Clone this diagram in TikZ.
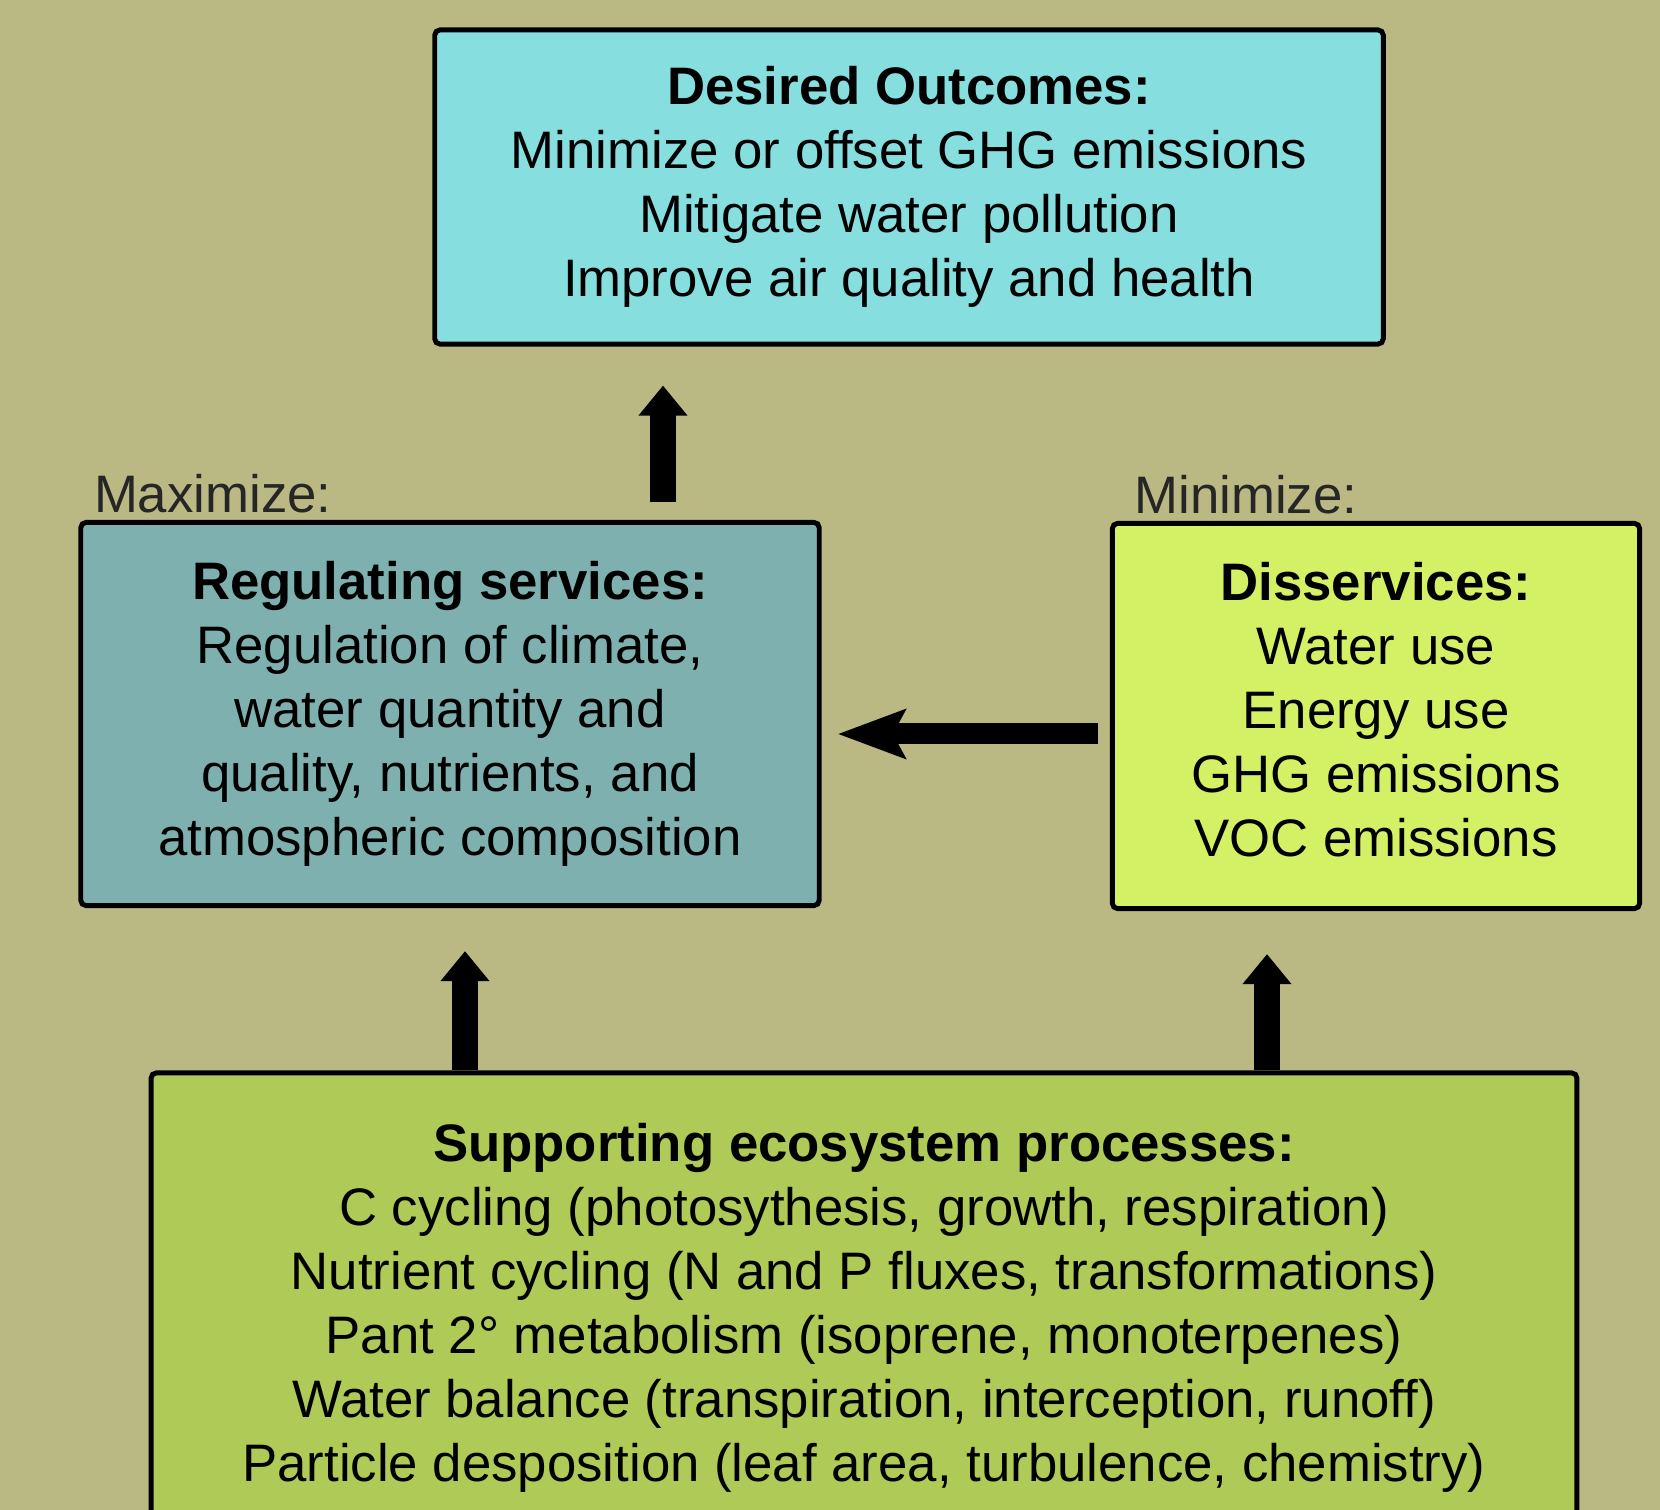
\documentclass[tikz,border=0pt]{standalone}
\usepackage{fontspec}
\setmainfont{Liberation Sans}
\usetikzlibrary{positioning, arrows.meta, calc}
\usepackage{xcolor}
\definecolor{bgkhaki}{HTML}{BAB984}
\definecolor{outcomecyan}{HTML}{86DEDF}
\definecolor{regteal}{HTML}{7FB0B0}
\definecolor{disyellow}{HTML}{D4F166}
\definecolor{supgreen}{HTML}{AFCA56}

\begin{document}
\begin{tikzpicture}[x=0.01cm, y=-0.01cm, font=\fontsize{15}{18.2}\selectfont,
  box/.style={draw=black, line width=1.4pt, rounded corners=1.5pt, align=center, inner sep=0pt},
  fatarrow/.style={line width=2.6mm, -{Triangle[length=3mm, width=4.7mm]}},
  sidearrow/.style={line width=2.1mm, -{Stealth[length=6.7mm, width=4.8mm, inset=1.2mm]}},
  headnote/.style={anchor=south west, inner sep=0pt, text=black!85}]
  \fill[bgkhaki] (0,0) rectangle (1660,1510);
  \useasboundingbox (0,0) rectangle (1660,1510);
  \clip (0,0) rectangle (1660,1510);

  % boxes
  \node[box, fill=outcomecyan, minimum width=9.48cm, minimum height=3.14cm] (outcomes) at (909,187)
    {\textbf{Desired Outcomes:}\\Minimize or offset GHG emissions\\Mitigate water pollution\\Improve air quality and health};
  \node[box, fill=regteal, minimum width=7.38cm, minimum height=3.83cm] (regulating) at (450,714)
    {\textbf{Regulating services:}\\Regulation of climate,\\water quantity and\\quality, nutrients, and\\atmospheric composition};
  \node[box, fill=disyellow, minimum width=5.27cm, minimum height=3.85cm] (disservices) at (1376,716)
    {\textbf{Disservices:}\\Water use\\Energy use\\GHG emissions\\VOC emissions\vspace{1.2mm}};
  \node[box, fill=supgreen, minimum width=14.25cm, minimum height=4.7cm] (supporting) at (864,1308)
    {\textbf{Supporting ecosystem processes:}\\C cycling (photosythesis, growth, respiration)\\Nutrient cycling (N and P fluxes, transformations)\\Pant 2° metabolism (isoprene, monoterpenes)\\Water balance (transpiration, interception, runoff)\\Particle desposition (leaf area, turbulence, chemistry)};

  \node[headnote] (maxnote) at ([shift={(15,-6)}]regulating.north west) {Maximize:};
  \node[headnote] (minnote) at ([shift={(24,-6)}]disservices.north west) {Minimize:};

  % arrows
  \coordinate (upx) at (663,0);
  \coordinate (leftx) at (465,0);
  \coordinate (rightx) at (1267,0);
  \coordinate (sidey) at (0,734);
  \draw[fatarrow, shorten <=1.8mm, shorten >=3.9mm] (regulating.north -| upx) -- (outcomes.south -| upx);
  \draw[sidearrow, shorten <=1.2mm, shorten >=1.6mm] (disservices.west |- sidey) -- (regulating.east |- sidey);
  \draw[fatarrow, shorten >=4.3mm] (supporting.north -| leftx) -- (regulating.south -| leftx);
  \draw[fatarrow, shorten >=4.3mm] (supporting.north -| rightx) -- (disservices.south -| rightx);
\end{tikzpicture}
\end{document}
